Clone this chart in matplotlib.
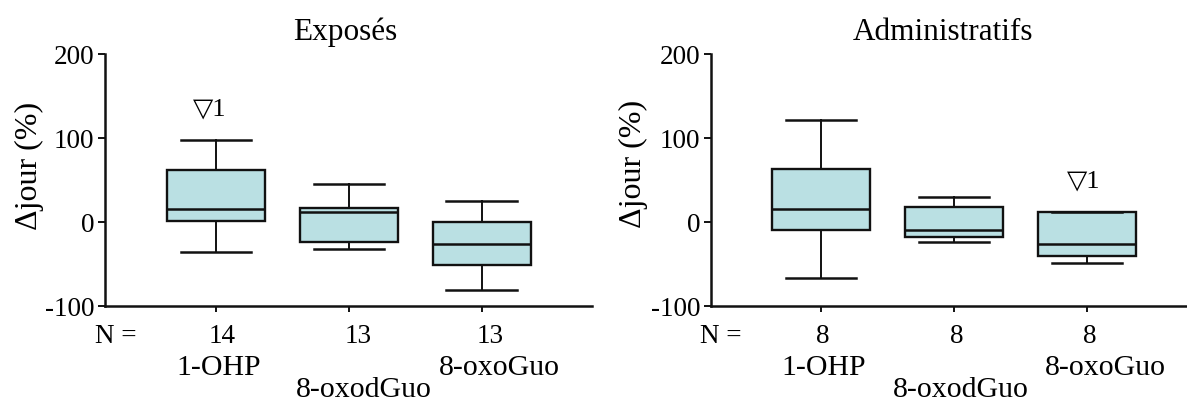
import matplotlib
matplotlib.use("Agg")
import matplotlib.pyplot as plt

plt.rcParams['font.family'] = ['Liberation Serif', 'DejaVu Sans']

categories = ["1-OHP", "8-oxodGuo", "8-oxoGuo"]

# Exposés
exp_whislo = [-36, -32, -81]
exp_q1 = [1, -24, -51]
exp_med = [16, 12, -26]
exp_q3 = [62, 17, 0]
exp_whishi = [98, 45, 25]
exp_n = ["14", "13", "13"]

# Administratifs
adm_whislo = [-67, -24, -49]
adm_q1 = [-9, -18, -41]
adm_med = [16, -9, -26]
adm_q3 = [63, 18, 12]
adm_whishi = [122, 30, 12]
adm_n = ["8", "8", "8"]

titles = ["Exposés", "Administratifs"]
ylabel = "Δjour (%)"
yticks = [-100, 0, 100, 200]
annot_exp = (1, 128, "▽1")
annot_adm = (3, 42, "▽1")

FS_TICK = 19.5
FS_N = 19.5
FS_CAT = 21.5
FS_TITLE = 22.5
FS_YLAB = 23
FS_ANN = 19
fill = "#BAE0E3"
ink = "#111111"

W, H = 1187, 402
fig = plt.figure(figsize=(W / 100, H / 100), dpi=100)


def px(x, y):
    return x / W, 1 - y / H


UNIT = 133.0  # pixels per category unit
axL = fig.add_axes([105 / W, 1 - 307 / H, (592 - 105) / W, (307 - 55) / H])
axR = fig.add_axes([711 / W, 1 - 307 / H, (1187 - 711) / W, (307 - 55) / H])


def draw(ax, lo, q1, med, q3, hi, xlim):
    stats = []
    for i, c in enumerate(categories):
        stats.append(dict(whislo=lo[i], q1=q1[i], med=med[i], q3=q3[i],
                          whishi=hi[i], fliers=[], label=c))
    ax.bxp(stats, positions=[1, 2, 3], widths=0.74, capwidths=0.53,
           showfliers=False, patch_artist=True,
           boxprops=dict(facecolor=fill, edgecolor=ink, linewidth=1.7),
           medianprops=dict(color=ink, linewidth=1.8),
           whiskerprops=dict(color=ink, linewidth=1.4),
           capprops=dict(color=ink, linewidth=1.8))
    ax.set_xlim(*xlim)
    ax.set_ylim(-100, 200)
    ax.set_yticks(yticks)
    ax.set_yticklabels([str(t) for t in yticks], fontsize=FS_TICK)
    ax.set_xticks([1, 2, 3])
    ax.set_xticklabels([])
    for s in ["top", "right"]:
        ax.spines[s].set_visible(False)
    for s in ["left", "bottom"]:
        ax.spines[s].set_linewidth(1.8)
        ax.spines[s].set_color(ink)
    ax.tick_params(axis="y", direction="out", length=5, width=1.4, pad=2.5,
                   color=ink)
    ax.tick_params(axis="x", direction="out", length=4, width=1.4, color=ink)


draw(axL, exp_whislo, exp_q1, exp_med, exp_q3, exp_whishi, (0.165, 3.83))
draw(axR, adm_whislo, adm_q1, adm_med, adm_q3, adm_whishi, (0.173, 3.75))

axL.text(annot_exp[0] - 6 / UNIT, annot_exp[1], annot_exp[2], fontsize=FS_ANN,
         ha="center", va="baseline")
axR.text(annot_adm[0] - 4 / UNIT, annot_adm[1], annot_adm[2], fontsize=FS_ANN,
         ha="center", va="baseline")

# titles
fig.text(*px(345, 40), titles[0], fontsize=FS_TITLE, ha="center", va="baseline")
fig.text(*px(943, 40), titles[1], fontsize=FS_TITLE, ha="center", va="baseline")

# y labels
fig.text(*px(29, 166), ylabel, fontsize=FS_YLAB, rotation=90,
         ha="center", va="center")
fig.text(*px(633, 164), ylabel, fontsize=FS_YLAB, rotation=90,
         ha="center", va="center")

# N rows
fig.text(*px(116, 343), "N =", fontsize=FS_N, ha="center", va="baseline")
fig.text(*px(721, 343), "N =", fontsize=FS_N, ha="center", va="baseline")

AX_H = 307 - 55
panels = [
    (axL, exp_n, [6, 9, 8], [3, 15, 18]),
    (axR, adm_n, [2, 3, 3], [3, 7, 18]),
]
lab_base = [375, 397, 375]
for ax, ns, n_off, lab_off in panels:
    tr = ax.get_xaxis_transform()
    for i, n in enumerate(ns):
        ax.text(i + 1 + n_off[i] / UNIT, -(343 - 307) / AX_H, n, transform=tr,
                fontsize=FS_N, ha="center", va="baseline", clip_on=False)
    for i, c in enumerate(categories):
        ax.text(i + 1 + lab_off[i] / UNIT, -(lab_base[i] - 307) / AX_H, c,
                transform=tr, fontsize=FS_CAT, ha="center", va="baseline",
                clip_on=False)

fig.savefig("out.png", dpi=100)
